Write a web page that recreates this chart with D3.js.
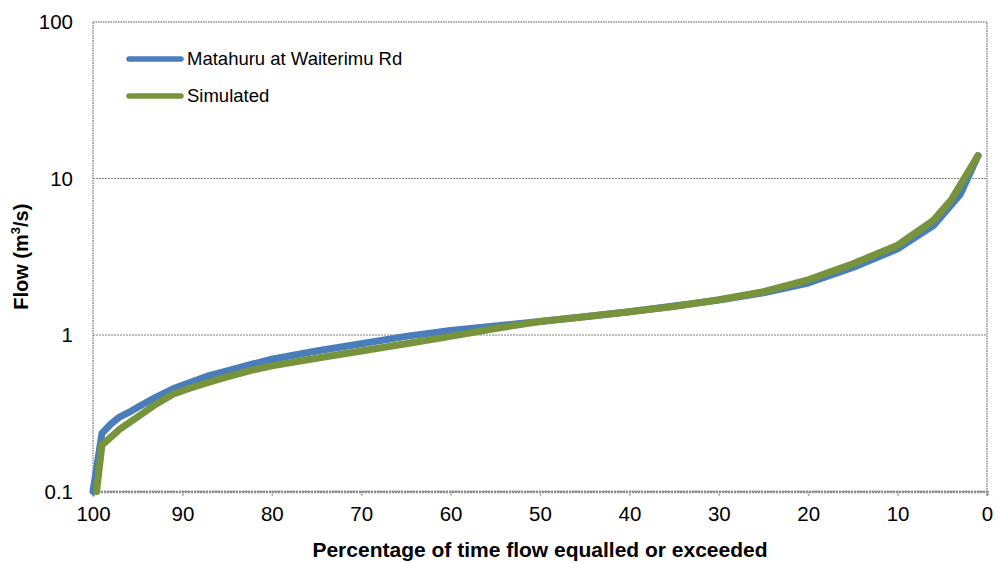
<!DOCTYPE html>
<html>
<head>
<meta charset="utf-8">
<script src="https://cdn.jsdelivr.net/npm/d3@7"></script>
<style>
  html, body { margin: 0; padding: 0; background: #fff; }
  svg { display: block; font-family: "Liberation Sans", Arial, sans-serif; }
</style>
</head>
<body>
<svg id="chart" width="999" height="563"></svg>
<script>
// Flow duration curves: percentage of time a flow is equalled or exceeded
const observedPct   = [100, 99, 98, 97, 96, 95, 93, 91, 89, 87, 85, 82, 80, 75, 70, 65, 60, 55, 50, 45, 40, 35, 30, 25, 20, 15, 10, 6, 3, 1];
const observedFlow  = [0.1, 0.235, 0.27, 0.30, 0.32, 0.345, 0.40, 0.455, 0.50, 0.55, 0.59, 0.655, 0.70, 0.79, 0.88, 0.98, 1.07, 1.14, 1.22, 1.31, 1.41, 1.53, 1.67, 1.86, 2.15, 2.70, 3.55, 5.0, 7.9, 14.0];

const simulatedPct  = [99.6, 99, 97, 95, 93, 91, 89, 87, 85, 82, 80, 75, 70, 65, 60, 55, 50, 45, 40, 35, 30, 25, 20, 15, 10, 6, 4, 1];
const simulatedFlow = [0.1, 0.198, 0.25, 0.30, 0.36, 0.42, 0.46, 0.50, 0.54, 0.60, 0.635, 0.71, 0.79, 0.88, 0.98, 1.10, 1.22, 1.31, 1.41, 1.52, 1.68, 1.89, 2.25, 2.85, 3.75, 5.4, 7.3, 14.0];

const seriesNames  = ["Matahuru at Waiterimu Rd", "Simulated"];
const seriesColors = ["#4a7ebb", "#77933c"];

const xTicks = [100, 90, 80, 70, 60, 50, 40, 30, 20, 10, 0];
const yTicks = [0.1, 1, 10, 100];
const yTickLabels = ["0.1", "1", "10", "100"];

const xTitle = "Percentage of time flow equalled or exceeded";

const svg = d3.select("#chart");
const plot = { left: 93, right: 987, top: 22, bottom: 491.5 };

const x = d3.scaleLinear().domain([100, 0]).range([plot.left, plot.right]);
const y = d3.scaleLog().domain([0.1, 100]).range([plot.bottom, plot.top]);

// horizontal gridlines at each decade
svg.append("g")
  .selectAll("line")
  .data([1, 10])
  .join("line")
  .attr("x1", plot.left).attr("x2", plot.right)
  .attr("y1", d => y(d)).attr("y2", d => y(d))
  .attr("stroke", "#7f7f7f")
  .attr("stroke-width", 1)
  .attr("stroke-dasharray", "2,1");

// plot area border
svg.append("rect")
  .attr("x", plot.left).attr("y", plot.top)
  .attr("width", plot.right - plot.left)
  .attr("height", plot.bottom - plot.top)
  .attr("fill", "none")
  .attr("stroke", "#8c8c8c")
  .attr("stroke-width", 1.5)
  .attr("stroke-dasharray", "1.5,1");

// x axis
const xAxis = svg.append("g")
  .attr("transform", `translate(0,${plot.bottom})`)
  .call(d3.axisBottom(x).tickValues(xTicks).tickSize(5).tickPadding(10).tickFormat(d3.format("d")));
xAxis.select(".domain")
  .attr("stroke", "#8c8c8c").attr("stroke-width", 2.5).attr("stroke-dasharray", "2,1");
xAxis.selectAll(".tick line")
  .attr("stroke", "#8c8c8c").attr("stroke-width", 1.5).attr("stroke-dasharray", "1.5,1");
xAxis.selectAll(".tick text")
  .attr("font-size", 20.5).attr("fill", "#000").attr("font-family", "Liberation Sans, Arial, sans-serif");

// y axis
const yAxis = svg.append("g")
  .attr("transform", `translate(${plot.left},0)`)
  .call(d3.axisLeft(y).tickValues(yTicks).tickSize(0).tickPadding(20)
    .tickFormat((d, i) => yTickLabels[i]));
yAxis.select(".domain").remove();
yAxis.selectAll(".tick text")
  .attr("font-size", 20.5).attr("fill", "#000").attr("font-family", "Liberation Sans, Arial, sans-serif");

// axis titles
svg.append("text")
  .attr("x", (plot.left + plot.right) / 2)
  .attr("y", 557)
  .attr("text-anchor", "middle")
  .attr("font-size", 21).attr("font-weight", "bold")
  .text(xTitle);

const yTitle = svg.append("text")
  .attr("transform", `translate(28,${(plot.top + plot.bottom) / 2}) rotate(-90)`)
  .attr("text-anchor", "middle")
  .attr("font-size", 20).attr("font-weight", "bold");
yTitle.append("tspan").text("Flow (m");
yTitle.append("tspan").attr("font-size", 13).attr("dy", -8).text("3");
yTitle.append("tspan").attr("dy", 8).text("/s)");

// curves
const line = d3.line()
  .x(d => x(d[0]))
  .y(d => y(d[1]));

const series = [
  d3.zip(observedPct, observedFlow),
  d3.zip(simulatedPct, simulatedFlow)
];

svg.append("g")
  .selectAll("path")
  .data(series)
  .join("path")
  .attr("d", line)
  .attr("fill", "none")
  .attr("stroke", (d, i) => seriesColors[i])
  .attr("stroke-width", 7)
  .attr("stroke-linejoin", "round")
  .attr("stroke-linecap", "round");

// legend
const legend = svg.append("g").attr("transform", "translate(127,59)");
seriesNames.forEach((name, i) => {
  const g = legend.append("g").attr("transform", `translate(0,${i * 37})`);
  g.append("line")
    .attr("x1", 2).attr("x2", 54)
    .attr("stroke", seriesColors[i]).attr("stroke-width", 5.5)
    .attr("stroke-linecap", "round");
  g.append("text")
    .attr("x", 60).attr("dy", "0.35em")
    .attr("font-size", 18.5)
    .text(name);
});
</script>
</body>
</html>
